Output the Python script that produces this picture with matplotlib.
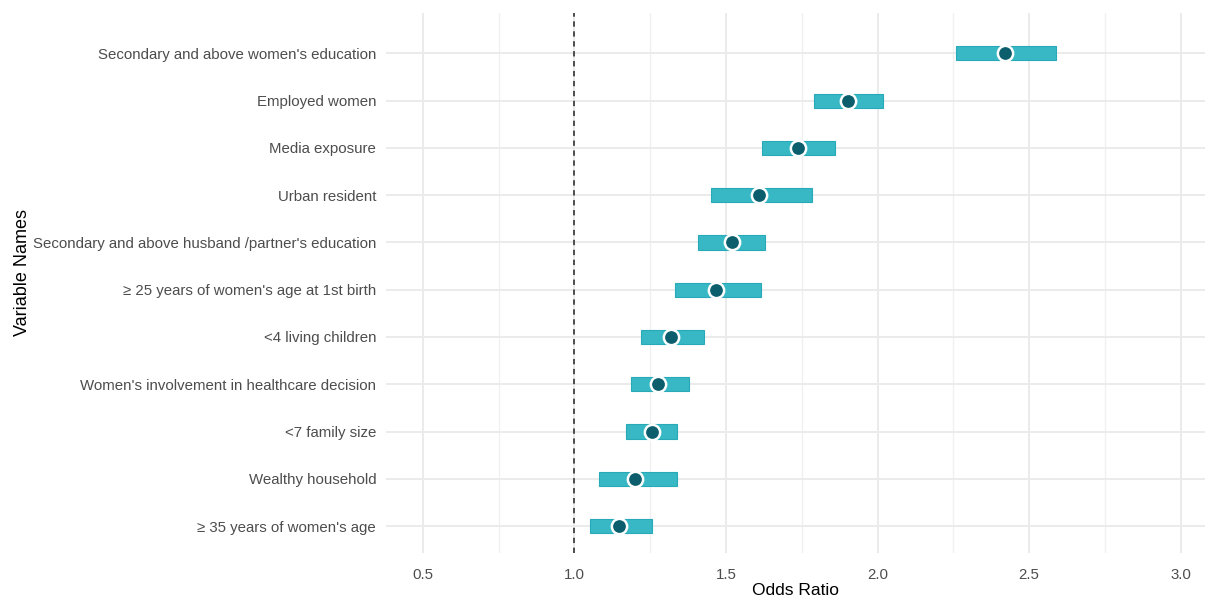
import matplotlib.pyplot as plt
import numpy as np
from matplotlib.ticker import MultipleLocator

plt.rcParams['font.family'] = ['Liberation Sans', 'DejaVu Sans']

# top to bottom as in the picture
variables = [
    "Secondary and above women's education",
    "Employed women",
    "Media exposure",
    "Urban resident",
    "Secondary and above husband /partner's education",
    "\u2265 25 years of women's age at 1st birth",
    "<4 living children",
    "Women's involvement in healthcare decision",
    "<7 family size",
    "Wealthy household",
    "\u2265 35 years of women's age",
]
odds = [2.419, 1.901, 1.739, 1.609, 1.519, 1.467, 1.317, 1.277, 1.255, 1.201, 1.147]
ci_low = [2.260, 1.789, 1.618, 1.449, 1.408, 1.331, 1.221, 1.188, 1.169, 1.080, 1.051]
ci_high = [2.590, 2.018, 1.861, 1.785, 1.628, 1.617, 1.427, 1.378, 1.337, 1.337, 1.255]

n = len(variables)
ypos = np.arange(n, 0, -1)

fig = plt.figure(figsize=(12.11, 6), dpi=100)
ax = fig.add_axes([0.3187, 0.0783, 0.6763, 0.8997])

ax.barh(ypos, np.array(ci_high) - np.array(ci_low), left=ci_low, height=0.3,
        color='#38b8c5', edgecolor='#27a9b7', linewidth=0.8, zorder=3)
ax.plot(odds, ypos, 'o', color='#0c5e6d', markersize=11,
        markeredgecolor='white', markeredgewidth=1.8, zorder=4)
ax.axvline(1.0, color='#222222', linestyle=(0, (3.5, 3)), linewidth=1.1, zorder=2)

ax.set_xlim(0.378, 3.08)
ax.set_ylim(0.43, 11.85)
ax.set_yticks(ypos)
ax.set_yticklabels(variables)
ax.xaxis.set_minor_locator(MultipleLocator(0.25))
ax.set_xticks([0.5, 1.0, 1.5, 2.0, 2.5, 3.0])
ax.set_xticklabels(['0.5', '1.0', '1.5', '2.0', '2.5', '3.0'])

ax.grid(True, which='major', color='#ebebeb', linewidth=1.4, zorder=0)
ax.grid(True, which='minor', axis='x', color='#f0f0f0', linewidth=1.0, zorder=0)
ax.set_axisbelow(True)
for s in ax.spines.values():
    s.set_visible(False)
ax.tick_params(axis='both', which='both', length=0, labelsize=10.8, colors='#4d4d4d')
ax.tick_params(axis='x', pad=11)
ax.tick_params(axis='y', pad=7)

ax.set_xlabel('Odds Ratio', fontsize=12.5)
ax.xaxis.set_label_coords(0.5, -0.055)
ax.set_ylabel('Variable Names', fontsize=13)
ax.yaxis.set_label_coords(-0.434, 0.52)

fig.savefig('out.png', dpi=100)
